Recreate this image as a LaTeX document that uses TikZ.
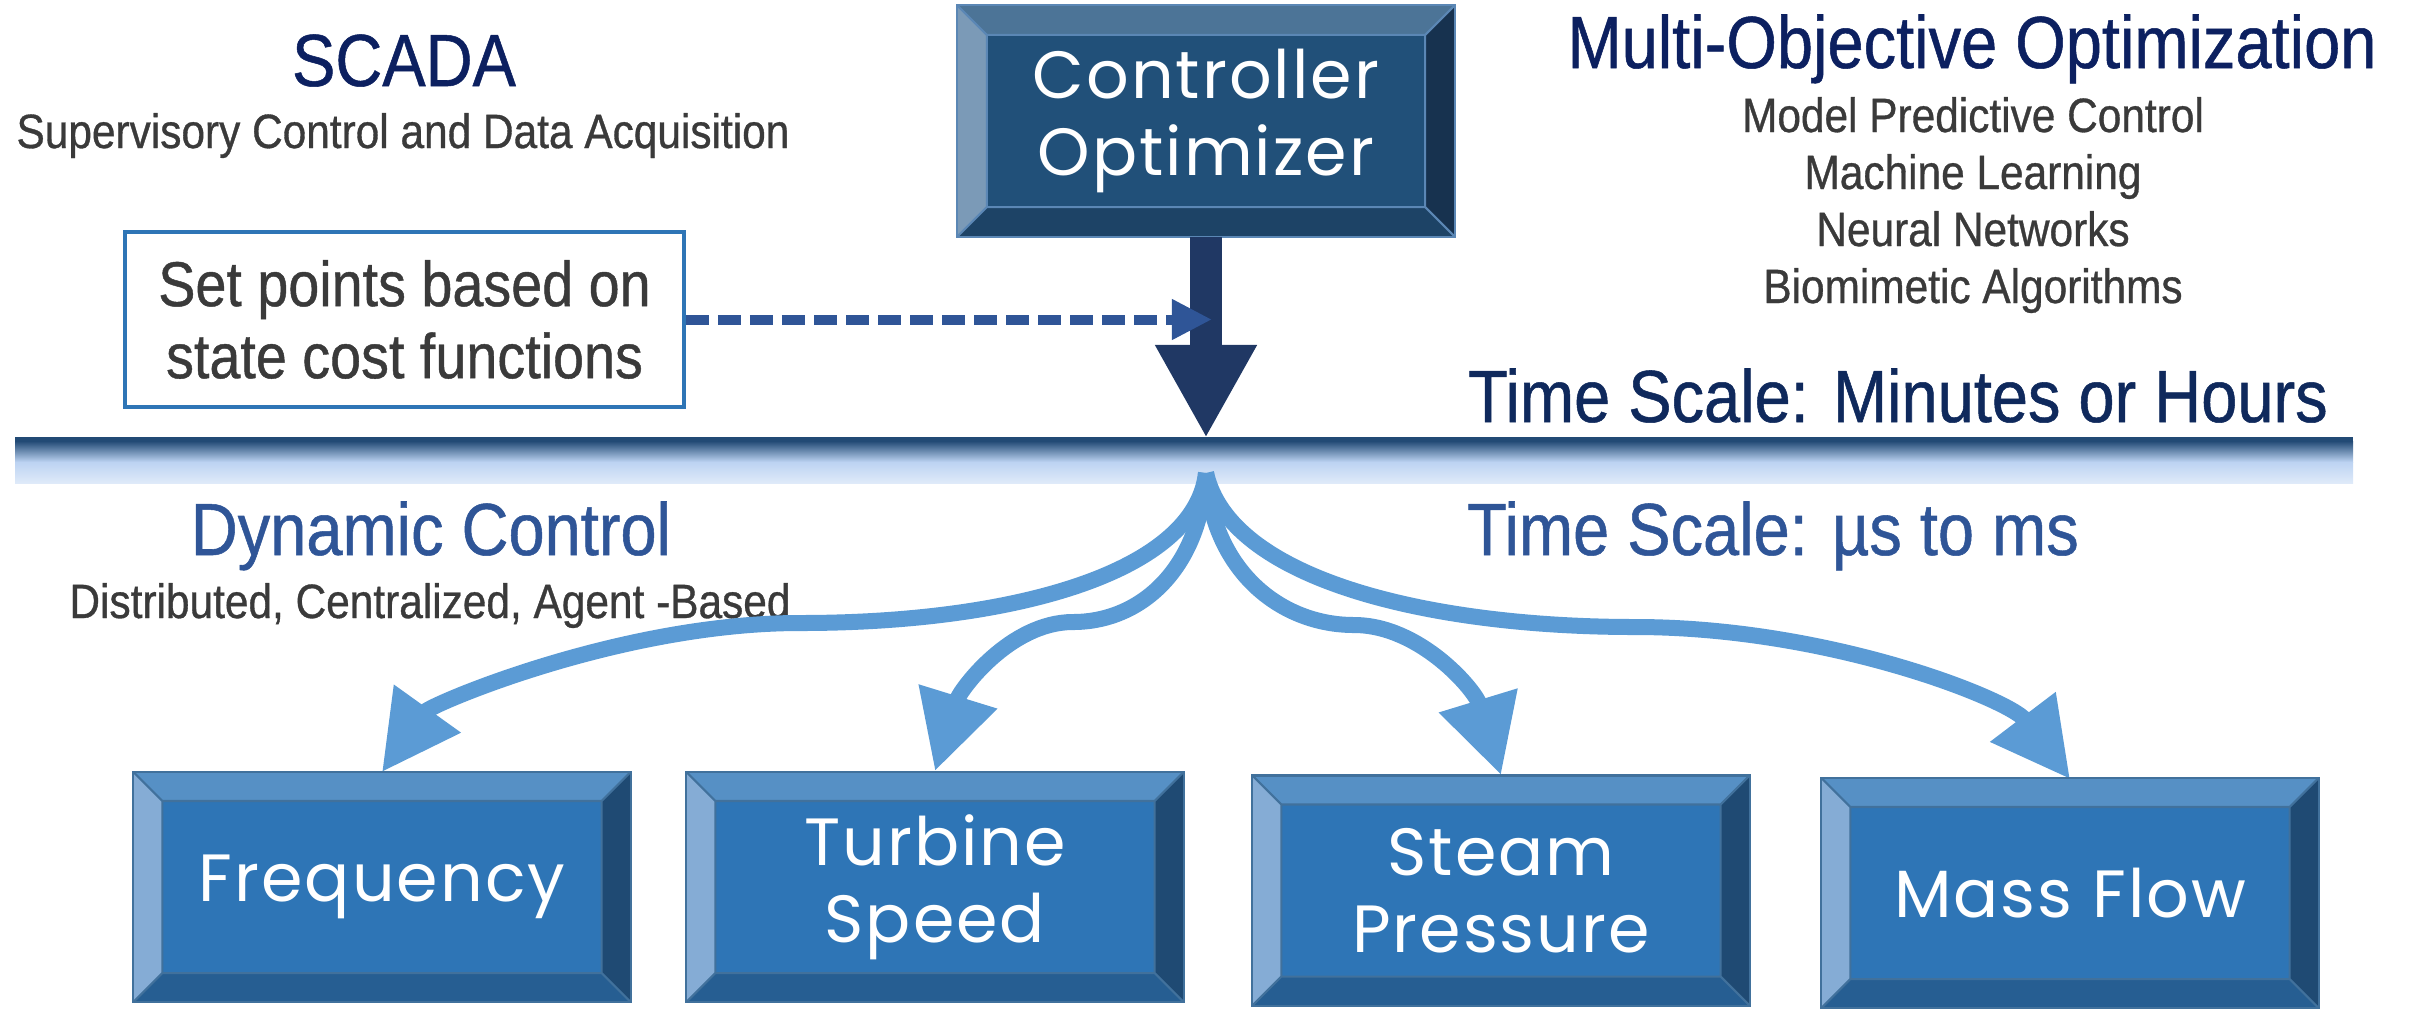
\documentclass[tikz,border=0pt]{standalone}
\usepackage{fontspec}
\setmainfont{Liberation Sans}
\newfontfamily\arialn[FakeStretch=0.88,FakeBold=0.7]{Liberation Sans}
\newfontfamily\boxfont[LetterSpace=3]{Poppins}
\usetikzlibrary{arrows.meta,calc}

\definecolor{cface}{HTML}{215079}
\definecolor{ctop}{HTML}{4C7497}
\definecolor{cleft}{HTML}{7B9AB7}
\definecolor{cright}{HTML}{17324F}
\definecolor{cbot}{HTML}{1D4366}
\definecolor{cedge}{HTML}{5B87B5}
\definecolor{vface}{HTML}{2E75B6}
\definecolor{vtop}{HTML}{5690C5}
\definecolor{vleft}{HTML}{85ACD5}
\definecolor{vright}{HTML}{1F4A73}
\definecolor{vbot}{HTML}{265E92}
\definecolor{vedge}{HTML}{41719C}
\definecolor{navy}{HTML}{0C2060}
\definecolor{navytwo}{HTML}{0F295C}
\definecolor{bluetwo}{HTML}{2F5597}
\definecolor{greytxt}{HTML}{3A3A3A}
\definecolor{darknavy}{HTML}{203864}
\definecolor{flowblue}{HTML}{5B9BD5}
\definecolor{spborder}{HTML}{2E75B6}
\definecolor{banddark}{HTML}{224A75}
\definecolor{bandmid}{HTML}{BCD3F2}
\definecolor{bandlight}{HTML}{DFEAF9}

\tikzset{
  bbox/.style n args={7}{fill=#2, draw=#7, line width=0.6pt, inner sep=0pt, outer sep=0pt,
    align=center, text=white,
    path picture={
      \coordinate (bvnw) at (path picture bounding box.north west);
      \coordinate (bvne) at (path picture bounding box.north east);
      \coordinate (bvsw) at (path picture bounding box.south west);
      \coordinate (bvse) at (path picture bounding box.south east);
      \coordinate (bvinw) at ([shift={(#1,#1)}]bvnw);
      \coordinate (bvine) at ([shift={(-#1,#1)}]bvne);
      \coordinate (bvisw) at ([shift={(#1,-#1)}]bvsw);
      \coordinate (bvise) at ([shift={(-#1,-#1)}]bvse);
      \fill[#3] (bvnw) -- (bvne) -- (bvine) -- (bvinw) -- cycle;
      \fill[#4] (bvnw) -- (bvinw) -- (bvisw) -- (bvsw) -- cycle;
      \fill[#5] (bvne) -- (bvse) -- (bvise) -- (bvine) -- cycle;
      \fill[#6] (bvsw) -- (bvisw) -- (bvise) -- (bvse) -- cycle;
      \draw[#7, line width=0.6pt] (bvinw) rectangle (bvise)
        (bvnw) -- (bvinw) (bvne) -- (bvine) (bvsw) -- (bvisw) (bvse) -- (bvise);
    }},
  ctrlbox/.style={bbox={30}{cface}{ctop}{cleft}{cright}{cbot}{cedge},
    minimum width=4.98cm, minimum height=2.32cm,
    font=\boxfont\fontsize{19}{22}\selectfont},
  varbox/.style={bbox={29}{vface}{vtop}{vleft}{vright}{vbot}{vedge},
    minimum width=4.97cm, minimum height=2.30cm,
    font=\boxfont\fontsize{19}{22}\selectfont},
  bigtitle/.style={anchor=base, inner sep=0pt, font=\arialn\fontsize{21}{24}\selectfont},
  subtxt/.style={anchor=base, inner sep=0pt, text=greytxt, font=\arialn\fontsize{13.7}{16}\selectfont},
  flow/.style={draw=flowblue, line width=0.16cm, -{Triangle[length=0.78cm,width=0.78cm]}},
  dasharrow/.style={draw=bluetwo, line width=0.1cm, dash pattern=on 0.23cm off 0.09cm,
    -{Triangle[length=0.40cm,width=0.38cm]}},
}

\begin{document}
\begin{tikzpicture}[x=0.01cm, y=-0.01cm]
\useasboundingbox (0,0) rectangle (2415,1008);

% band
\fill[banddark] (15,437) rectangle (2353,441);
\shade[top color=banddark, bottom color=bandmid] (15,441) rectangle (2353,462);
\shade[top color=bandmid, bottom color=bandlight] (15,462) rectangle (2353,483);

% texts
\node[bigtitle, text=navy] (scada) at (404,86) {SCADA};
\node[subtxt] (scadasub) at (403,148) {Supervisory Control and Data Acquisition};
\node[bigtitle, text=navy] (moo) at (1972,68) {Multi-Objective Optimization};
\node[subtxt] (mpc) at (1973,132) {Model Predictive Control};
\node[subtxt] (ml) at (1973,189) {Machine Learning};
\node[subtxt] (nn) at (1973,246) {Neural Networks};
\node[subtxt] (bio) at (1973,303) {Biomimetic Algorithms};
\node[bigtitle, text=navytwo] (tsh) at (1898,422) {Time Scale: Minutes or Hours};
\node[bigtitle, text=bluetwo] (dyn) at (431,555) {Dynamic Control};
\node[subtxt] (dist) at (430,618) {Distributed, Centralized, Agent -Based};
\node[bigtitle, text=bluetwo] (tsm) at (1773,555) {Time Scale: µs to ms};

% boxes
\node[ctrlbox] (ctrl) at (1206,121) {Controller\\Optimizer};
\node[draw=spborder, line width=1pt, inner sep=0pt, minimum width=5.59cm, minimum height=1.75cm,
  align=center, text=greytxt, font=\arialn\fontsize{18}{20.5}\selectfont] (setp) at (404.5,319.5)
  {Set points based on\\state cost functions};

\coordinate (hub) at (1206,473);
\coordinate (ctrltip) at (1206,438);
\coordinate (dashtip) at (1212,319.5);

% curved flows
\draw[flow] (hub) .. controls (1195,570) and (1020,623) .. (800,623)
  .. controls (620,623) and (430,705) .. (382,772);
\draw[flow] (hub) .. controls (1200,570) and (1140,622) .. (1073,622)
  .. controls (1010,622) and (960,690) .. (935,771);
\draw[flow] (hub) .. controls (1212,570) and (1280,625) .. (1354,625)
  .. controls (1420,625) and (1475,690) .. (1501,775);
\draw[flow] (hub) .. controls (1230,580) and (1430,627) .. (1635,627)
  .. controls (1830,627) and (2010,700) .. (2070,779);

\node[varbox] (freq) at (382,887) {Frequency};
\node[varbox] (turb) at (935,887) {Turbine\\Speed};
\node[varbox] (steam) at (1501,890.5) {Steam\\Pressure};
\node[varbox] (mass) at (2070,893) {Mass Flow};

% arrows from controller and set points
\draw[darknavy, line width=0.32cm, -{Triangle[length=0.93cm,width=0.95cm]}] (ctrl.south) -- (ctrltip);
\draw[dasharrow] (setp.east) -- (dashtip);
\end{tikzpicture}
\end{document}
